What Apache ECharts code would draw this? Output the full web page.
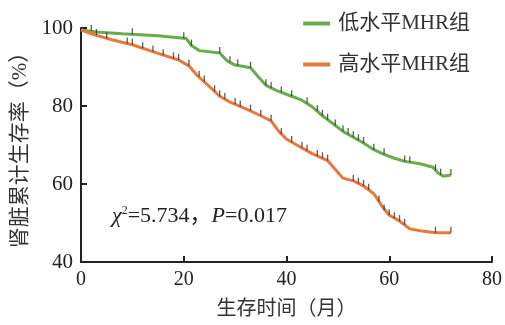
<!DOCTYPE html>
<html><head><meta charset="utf-8">
<script src="https://cdn.jsdelivr.net/npm/echarts@6/dist/echarts.min.js"></script>
<style>html,body{margin:0;padding:0;background:#fff}#c{width:505px;height:325px}</style>
</head><body><div id="c"></div>
<script>
var lowName = '低水平MHR组';
var highName = '高水平MHR组';
var lowCurve = [[0,99.5],[3,99],[8,98.5],[15,98],[20.5,97.3],[21.5,95.5],[23,94.2],[27,93.6],[28.5,91.5],[30,90.5],[33,89.8],[34.5,87.5],[36,85.3],[38,84],[41,82.5],[43,81.5],[45,79.8],[47,77.5],[49,75.5],[51,73.5],[53,72],[55,70.5],[57,68.8],[59,67.6],[61,66.6],[63,65.8],[66,65.2],[68.5,64.3],[69.5,62.8],[70.5,62],[72,62.3]];
var highCurve = [[0,99.5],[2,98.5],[6,97],[10,95.7],[15,93.5],[19,91.8],[21,90.3],[22.5,88],[25,85],[27,82.5],[29,81],[32,79.3],[35,77.5],[37,76.2],[38.5,73.5],[40,71.5],[42,70],[45,67.8],[48,66],[49,64.5],[51,61.5],[53,60.8],[55,59.5],[57,57.5],[58.5,54.5],[60,52],[62,50.5],[64,48.5],[66,48],[69,47.5],[72,47.5]];
var lowCensor = [[2,99.2],[10,98.4],[20,97.4],[21.5,95.5],[27,93.6],[29,91.2],[30.5,90.4],[33,89.8],[36,85.3],[37,84.6],[39,83.5],[41,82.5],[44,80.7],[46,78.7],[47,77.5],[48,76.5],[49.5,75],[51,73.5],[52,72.8],[53,72],[54,71.2],[55,70.5],[57,68.8],[59,67.6],[63,65.8],[64,65.6],[69,63.5],[70,62.4],[72,62.3]];
var highCensor = [[3,98.2],[5,97.4],[9,96],[10,95.7],[12,94.8],[14,94],[16,93],[18,92.2],[19,91.8],[21,90.3],[23,87.5],[24,86.3],[26,83.8],[27,82.5],[28,81.8],[30,80.5],[31,79.8],[33,78.8],[35,77.5],[37,76.2],[39,72.8],[41,70.8],[43,69.3],[44,68.5],[46,67.2],[47,66.6],[48,66],[53,60.8],[54,60.1],[55,59.5],[56,58.5],[58,55.5],[59,53.2],[60,52],[61,51.2],[62,50.5],[63,49.5],[69,47.5],[72,47.5]];
var xTicks = [0,20,40,60,80];
var yTicks = [40,60,80,100];

var FONT = '"Liberation Serif","Noto Sans CJK SC",serif';
var GREEN = '#68ac4c', ORANGE = '#e8793c';
var chart = echarts.init(document.getElementById('c'), null, {renderer:'canvas'});
var axisCommon = {
  axisLine:{show:true,lineStyle:{color:'#222',width:2}},
  axisTick:{show:true,inside:true,length:6,lineStyle:{color:'#222',width:2}},
  splitLine:{show:false}
};
chart.setOption({
  animation:false,
  grid:{left:81,right:11,top:28,bottom:60,containLabel:false},
  legend:{
    data:[{name:lowName},{name:highName}],
    orient:'vertical', right:30, top:8, itemGap:20,
    itemWidth:27, itemHeight:4, icon:'rect',
    textStyle:{fontFamily:FONT,fontSize:21,color:'#333',padding:[0,0,0,3]}
  },
  xAxis:Object.assign({type:'value',min:xTicks[0],max:xTicks[xTicks.length-1],interval:20,
    name:'生存时间（月）',nameLocation:'middle',nameGap:38,
    nameTextStyle:{fontFamily:FONT,fontSize:20,color:'#333'}}, axisCommon,
    {axisLabel:{color:'#222',fontFamily:FONT,fontSize:20,margin:8}}),
  yAxis:Object.assign({type:'value',min:yTicks[0],max:yTicks[yTicks.length-1],interval:20,
    name:'肾脏累计生存率（%）',nameLocation:'middle',nameGap:43,
    nameTextStyle:{fontFamily:FONT,fontSize:21,color:'#333'}}, axisCommon,
    {axisLabel:{color:'#222',fontFamily:FONT,fontSize:21,margin:8}}),
  series:[
    {name:lowName,type:'line',data:lowCurve,showSymbol:false,symbol:'none',
      lineStyle:{color:GREEN,width:3},itemStyle:{color:GREEN},z:3},
    {name:highName,type:'line',data:highCurve,showSymbol:false,symbol:'none',
      lineStyle:{color:ORANGE,width:3},itemStyle:{color:ORANGE},z:3},
    {name:'lowC',type:'scatter',data:lowCensor,symbol:'rect',symbolSize:[1.3,6],symbolOffset:[0,-3],
      itemStyle:{color:'#333'},z:4},
    {name:'highC',type:'scatter',data:highCensor,symbol:'rect',symbolSize:[1.3,6],symbolOffset:[0,-3],
      itemStyle:{color:'#333'},z:4}
  ],
  graphic:[{
    type:'text',left:112,top:205,
    style:{
      text:'{i|χ}{s|2}{n|=5.734，}{i|P}{n|=0.017}',
      rich:{
        i:{fontFamily:FONT,fontSize:22,fontStyle:'italic',fill:'#222'},
        s:{fontFamily:FONT,fontSize:12,fill:'#222',verticalAlign:'top',padding:[0,0,9,0]},
        n:{fontFamily:FONT,fontSize:22,fill:'#222'}
      }
    }
  }]
});
</script></body></html>
